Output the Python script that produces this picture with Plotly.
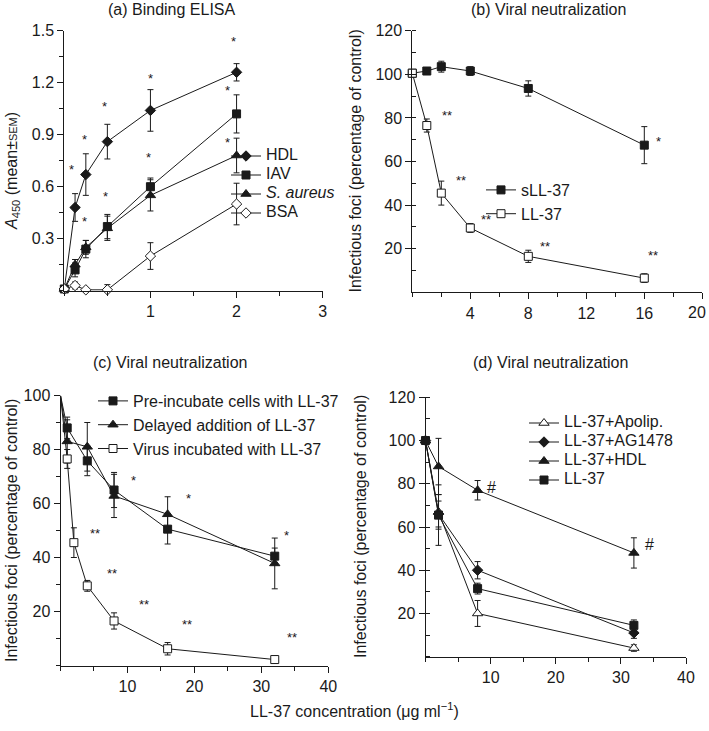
import plotly.graph_objects as go

W, H = 709, 731
FONT = "Liberation Sans, Arial, Helvetica, sans-serif"
INK = "#1a1a1a"

# (a) Binding ELISA: A450 vs LL-37 concentration
elisa_conc = [0, 0.125, 0.25, 0.5, 1, 2]
hdl_a450 = [0.01, 0.48, 0.67, 0.86, 1.04, 1.26]
hdl_err = [0.01, 0.08, 0.12, 0.10, 0.12, 0.05]
iav_a450 = [0.01, 0.12, 0.24, 0.37, 0.60, 1.02]
iav_err = [0.01, 0.04, 0.05, 0.07, 0.05, 0.11]
saureus_a450 = [0.01, 0.15, 0.25, 0.36, 0.55, 0.78]
saureus_err = [0.01, 0.03, 0.04, 0.07, 0.09, 0.10]
bsa_a450 = [0.01, 0.03, 0.005, 0.005, 0.20, 0.50]
bsa_err = [0.01, 0.02, 0.01, 0.03, 0.077, 0.12]
stars_a = [("*", 0.085, 0.69), ("*", 0.23, 0.86), ("*", 0.47, 1.05), ("*", 1.0, 1.215),
           ("*", 1.97, 1.425), ("*", 0.23, 0.39), ("*", 0.48, 0.533), ("*", 0.98, 0.758),
           ("*", 1.89, 1.143), ("*", 1.89, 0.846)]

# (b) Viral neutralization: sLL-37 vs LL-37
neut_conc = [0, 1, 2, 4, 8, 16]
sll37_foci = [100.5, 101.5, 103.5, 101.5, 93.5, 67.5]
sll37_err = [0, 1, 2.5, 2, 3.5, 8.5]
ll37_foci = [100.5, 76.5, 45.5, 29.5, 16.5, 6.5]
ll37_err = [0, 3, 5.5, 2, 2.8, 2]
stars_b = [("**", 2.37, 80.2), ("**", 3.36, 50.3), ("**", 5.08, 32.7), ("**", 9.15, 20.2),
           ("**", 16.6, 15.9), ("*", 17.0, 68.3)]

# (c) Viral neutralization: timing of LL-37 exposure
cells_conc = [0, 1, 4, 8, 16, 32]
preinc_foci = [100, 88, 75.8, 65, 50.5, 40.5]
preinc_err = [0, 4, 5.5, 6.5, 5.5, 3]
delayed_foci = [100, 83, 81, 62.8, 56, 37.8]
delayed_err = [0, 8, 9, 8, 6.5, 9.4]
virus_conc = [0, 1, 2, 4, 8, 16, 32]
virus_foci = [100, 76.5, 45.5, 29.5, 16.5, 6.2, 2.2]
virus_err = [0, 3.5, 5.5, 2, 3, 2.3, 1.3]
stars_c = [("*", 10.96, 67.9), ("*", 19.1, 61.1), ("*", 33.7, 47.3), ("**", 5.1, 48),
           ("**", 7.7, 33.5), ("**", 12.5, 21.7), ("**", 18.9, 14.5), ("**", 34.6, 9.7)]

# (d) Viral neutralization: LL-37 with inhibitors
combo_conc = [0, 2, 8, 32]
apolip_foci = [100, 67, 20, 4]
apolip_err = [0, 8, 6, 1.5]
ag1478_foci = [100, 66, 40, 11]
ag1478_err = [0, 6, 4, 2.5]
hdl_foci = [100, 88, 77, 48]
hdl_foci_err = [0, 13, 4.5, 7]
ll37_only_foci = [100, 65.5, 31.5, 14.5]
ll37_only_err = [0, 14, 2.5, 2.5]
marks_d = [("#", 10.2, 78.5), ("#", 34.4, 52)]


def px_x(v):
    return v / W


def px_y(v):
    return 1 - v / H


fig = go.Figure()


def add_series(xs, ys, errs, name, symbol, fill, ax, legend, size=8, showlegend=True):
    fig.add_trace(go.Scatter(
        x=xs, y=ys, mode="lines+markers", name=name,
        xaxis="x" + ax, yaxis="y" + ax, legend=legend, showlegend=showlegend,
        line=dict(color=INK, width=1),
        marker=dict(symbol=symbol, size=size, color=fill, line=dict(color=INK, width=1)),
        error_y=dict(type="data", array=errs, visible=True, color=INK, thickness=1, width=3),
        cliponaxis=False,
    ))


def add_line_only(xs, ys, ax):
    fig.add_trace(go.Scatter(x=xs, y=ys, mode="lines", showlegend=False,
                             xaxis="x" + ax, yaxis="y" + ax,
                             line=dict(color=INK, width=1), cliponaxis=False))


BLACK, WHITE = INK, "white"


def big(label):
    # legend font is kept small so rows pack tightly; the label itself is 16px
    return "<span style='font-size:16px'>%s</span>" % label


# panel a
add_series(elisa_conc, hdl_a450, hdl_err, big("HDL"), "diamond", BLACK, "", "legend", 8)
add_series(elisa_conc, iav_a450, iav_err, big("IAV"), "square", BLACK, "", "legend", 8)
add_series(elisa_conc, saureus_a450, saureus_err, big("<i>S. aureus</i>"), "triangle-up", BLACK, "", "legend", 9)
add_series(elisa_conc, bsa_a450, bsa_err, big("BSA"), "diamond", WHITE, "", "legend", 8)

# panel b
add_series(neut_conc, sll37_foci, sll37_err, "sLL-37", "square", BLACK, "2", "legend2", 8)
add_series(neut_conc, ll37_foci, ll37_err, "LL-37", "square", WHITE, "2", "legend2", 8)

# panel c (no marker at the origin)
add_line_only(cells_conc[:2], preinc_foci[:2], "3")
add_line_only(cells_conc[:2], delayed_foci[:2], "3")
add_line_only(virus_conc[:2], virus_foci[:2], "3")
add_series(cells_conc[1:], preinc_foci[1:], preinc_err[1:], "Pre-incubate cells with LL-37", "square", BLACK, "3", "legend3", 8)
add_series(cells_conc[1:], delayed_foci[1:], delayed_err[1:], "Delayed addition of LL-37", "triangle-up", BLACK, "3", "legend3", 9)
add_series(virus_conc[1:], virus_foci[1:], virus_err[1:], "Virus incubated with LL-37", "square", WHITE, "3", "legend3", 8)

# panel d
add_series(combo_conc, apolip_foci, apolip_err, big("LL-37+Apolip."), "triangle-up", WHITE, "4", "legend4", 9)
add_series(combo_conc, ag1478_foci, ag1478_err, big("LL-37+AG1478"), "diamond", BLACK, "4", "legend4", 8)
add_series(combo_conc, hdl_foci, hdl_foci_err, big("LL-37+HDL"), "triangle-up", BLACK, "4", "legend4", 9)
add_series(combo_conc, ll37_only_foci, ll37_only_err, big("LL-37"), "square", BLACK, "4", "legend4", 8)


def axis(dom, rng, tickvals, minor_dtick, anchor, minor_ticks="outside"):
    return dict(
        domain=dom, range=rng, anchor=anchor, tickvals=tickvals, automargin=False,
        ticktext=[("%g" % v) for v in tickvals], ticklabeloverflow="allow",
        ticks="outside", ticklen=6, tickwidth=1, tickcolor=INK,
        showline=True, linecolor=INK, linewidth=1, showgrid=False, zeroline=False,
        tickfont=dict(size=16, color=INK, family=FONT),
        minor=dict(tickmode="linear", tick0=0, dtick=minor_dtick, ticks=minor_ticks,
                   ticklen=4, tickwidth=1, tickcolor=INK, showgrid=False),
    )


layout_axes = dict(
    xaxis=axis([px_x(64.3), px_x(322.7)], [0, 3], [1, 2, 3], 0.5, "y"),
    yaxis=axis([px_y(290.7), px_y(30.7)], [0, 1.5], [0.3, 0.6, 0.9, 1.2, 1.5], 0.15, "x"),
    xaxis2=axis([px_x(412.3), px_x(702.3)], [0, 20], [4, 8, 12, 16, 20], 2, "y2"),
    yaxis2=axis([px_y(292.3), px_y(30.7)], [0, 120], [20, 40, 60, 80, 100, 120], 10, "x2", "inside"),
    xaxis3=axis([px_x(60.5), px_x(328.3)], [0, 40], [10, 20, 30, 40], 5, "y3"),
    yaxis3=axis([px_y(665.5), px_y(395.5)], [0, 100], [20, 40, 60, 80, 100], 10, "x3"),
    xaxis4=axis([px_x(425.5), px_x(686)], [0, 40], [10, 20, 30, 40], 5, "y4"),
    yaxis4=axis([px_y(656.7), px_y(397.3)], [0, 120], [20, 40, 60, 80, 100, 120], 10, "x4", "inside"),
)
layout_axes["yaxis"]["ticktext"] = ["0.3", "0.6", "0.9", "1.2", "1.5"]
# the last label of (b) sits on the page edge; it is written separately below
layout_axes["xaxis2"]["ticktext"] = ["4", "8", "12", "16", ""]


def legend_box(x_px, y_px, size):
    return dict(x=px_x(x_px), y=px_y(y_px), xanchor="left", yanchor="top",
                bgcolor="rgba(0,0,0,0)", borderwidth=0, tracegroupgap=0, itemwidth=30,
                font=dict(size=size, family=FONT, color=INK))


annotations = []


def text_px(txt, x_px, y_px, size=16, angle=0, xanchor="center"):
    annotations.append(dict(text=txt, x=px_x(x_px), y=px_y(y_px), xref="paper", yref="paper",
                            showarrow=False, textangle=angle, xanchor=xanchor, yanchor="middle",
                            font=dict(size=size, family=FONT, color=INK)))


text_px("(a) Binding ELISA", 171.7, 9)
text_px("(b) Viral neutralization", 548.3, 9)
text_px("(c) Viral neutralization", 170, 362)
text_px("(d) Viral neutralization", 550, 362)
text_px("<i>A</i><sub>450</sub> (mean±<span style='font-size:11px'>SEM</span>)", 12, 171, angle=-90)
text_px("Infectious foci (percentage of control)", 355, 161.5, angle=-90)
text_px("Infectious foci (percentage of control)", 11.5, 530.5, angle=-90)
text_px("Infectious foci (percentage of control)", 360, 527, angle=-90)
text_px("LL-37 concentration (μg ml<sup>−1</sup>)", 354, 710)
text_px("20", 708, 313, xanchor="right")

for marks, ax in ((stars_a, ""), (stars_b, "2"), (stars_c, "3"), (marks_d, "4")):
    for txt, xv, yv in marks:
        is_hash = txt == "#"
        annotations.append(dict(text=txt, x=xv, y=yv, xref="x" + ax, yref="y" + ax,
                                showarrow=False, xanchor="center", yanchor="middle",
                                yshift=0 if is_hash else 2,
                                font=dict(size=16 if is_hash else 13, family=FONT, color=INK)))

fig.update_layout(
    width=W, height=H, margin=dict(l=0, r=0, t=0, b=0),
    paper_bgcolor="white", plot_bgcolor="white",
    font=dict(family=FONT, size=16, color=INK),
    legend=legend_box(226, 141.5, 11),
    legend2=legend_box(481, 173, 16),
    legend3=legend_box(93, 384, 16),
    legend4=legend_box(524, 408.5, 11),
    annotations=annotations,
    **layout_axes,
)

# the page's default body margin would push the figure 8px off the window
fig.write_html("out.html", config={"displayModeBar": False},
               post_script="document.body.style.margin='0';")
